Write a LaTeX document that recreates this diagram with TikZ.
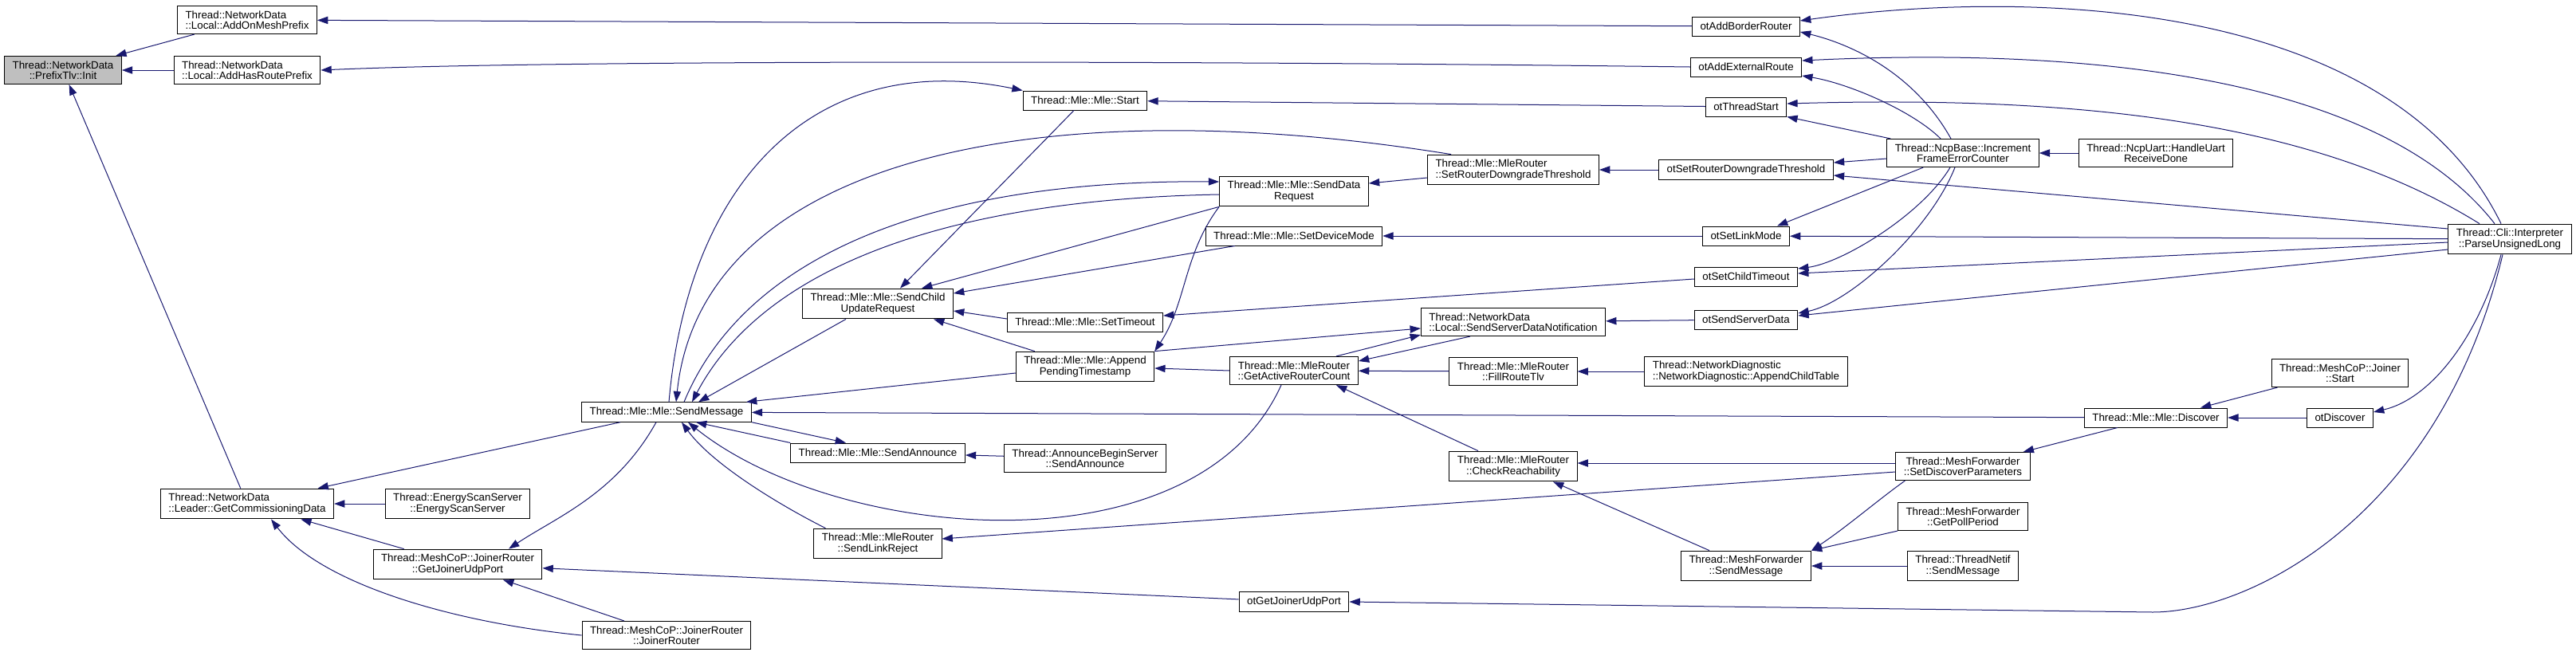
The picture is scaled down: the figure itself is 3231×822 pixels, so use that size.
\documentclass[tikz,border=0pt]{standalone}
\usepackage{fontspec}
\setmainfont{Liberation Sans}
\usetikzlibrary{arrows.meta,calc}
\definecolor{edgeblue}{HTML}{191970}
\definecolor{rootgray}{HTML}{BFBFBF}

\begin{document}
\begin{tikzpicture}[x=0.75pt,y=-0.75pt,
  fn/.style={draw=black,fill=white,line width=0.75pt,font=\fontsize{10}{10}\selectfont,
             inner xsep=7.5pt,inner ysep=4.5pt,minimum height=18pt,align=center},
  fnl/.style={fn,align=left},
  call/.style={draw=edgeblue,line width=0.75pt,-{Triangle[length=10pt,width=7pt]}}]
\useasboundingbox (0,0) rectangle (3231,822);

\node[fn,fill=rootgray] (init) at (79,88) {Thread::NetworkData\\::PrefixTlv::Init};
\node[fnl] (addmesh) at (310,25) {Thread::NetworkData\\::Local::AddOnMeshPrefix};
\node[fnl] (addroute) at (310,88) {Thread::NetworkData\\::Local::AddHasRoutePrefix};
\node[fnl] (getcomm) at (310,632) {Thread::NetworkData\\::Leader::GetCommissioningData};
\node[fn] (energy) at (574,632) {Thread::EnergyScanServer\\::EnergyScanServer};
\node[fn] (getudp) at (574,708) {Thread::MeshCoP::JoinerRouter\\::GetJoinerUdpPort};
\node[fn] (jrouter) at (836,797) {Thread::MeshCoP::JoinerRouter\\::JoinerRouter};
\node[fn] (sendmsg) at (836,517) {Thread::Mle::Mle::SendMessage};
\node[fn] (start) at (1361,126) {Thread::Mle::Mle::Start};
\node[fn] (scur) at (1101,381) {Thread::Mle::Mle::SendChild\\UpdateRequest};
\node[fn] (settimeout) at (1361,404) {Thread::Mle::Mle::SetTimeout};
\node[fn] (sdr) at (1623,240) {Thread::Mle::Mle::SendData\\Request};
\node[fn] (setdev) at (1623,296) {Thread::Mle::Mle::SetDeviceMode};
\node[fn] (apt) at (1361,460) {Thread::Mle::Mle::Append\\PendingTimestamp};
\node[fn] (sendann) at (1101,568) {Thread::Mle::Mle::SendAnnounce};
\node[fn] (annbegin) at (1361,575) {Thread::AnnounceBeginServer\\::SendAnnounce};
\node[fn] (linkrej) at (1101,682) {Thread::Mle::MleRouter\\::SendLinkReject};
\node[fn] (garc) at (1623,465) {Thread::Mle::MleRouter\\::GetActiveRouterCount};
\node[fn] (otudp) at (1623,755) {otGetJoinerUdpPort};
\node[fnl] (srdt) at (1898,213) {Thread::Mle::MleRouter\\::SetRouterDowngradeThreshold};
\node[fnl] (ssdn) at (1898,404) {Thread::NetworkData\\::Local::SendServerDataNotification};
\node[fn] (fillroute) at (1898,466) {Thread::Mle::MleRouter\\::FillRouteTlv};
\node[fn] (checkreach) at (1898,585) {Thread::Mle::MleRouter\\::CheckReachability};
\node[fn] (otborder) at (2190,33) {otAddBorderRouter};
\node[fn] (otextroute) at (2190,84) {otAddExternalRoute};
\node[fn] (otstart) at (2190,134) {otThreadStart};
\node[fn] (otsrdt) at (2190,213) {otSetRouterDowngradeThreshold};
\node[fn] (otlink) at (2190,296) {otSetLinkMode};
\node[fn] (otchild) at (2190,347) {otSetChildTimeout};
\node[fn] (otserver) at (2190,401) {otSendServerData};
\node[fnl] (appendchild) at (2190,466) {Thread::NetworkDiagnostic\\::NetworkDiagnostic::AppendChildTable};
\node[fn] (mfsend) at (2190,710) {Thread::MeshForwarder\\::SendMessage};
\node[fn] (ifec) at (2462,192) {Thread::NcpBase::Increment\\FrameErrorCounter};
\node[fn] (sdp) at (2462,585) {Thread::MeshForwarder\\::SetDiscoverParameters};
\node[fn] (pollper) at (2462,648) {Thread::MeshForwarder\\::GetPollPeriod};
\node[fn] (netifsend) at (2462,710) {Thread::ThreadNetif\\::SendMessage};
\node[fn] (ncpuart) at (2704,192) {Thread::NcpUart::HandleUart\\ReceiveDone};
\node[fn] (discover) at (2704,524) {Thread::Mle::Mle::Discover};
\node[fn] (joinstart) at (2935,468) {Thread::MeshCoP::Joiner\\::Start};
\node[fn] (otdiscover) at (2935,524) {otDiscover};
\node[fn] (parse) at (3148,300) {Thread::Cli::Interpreter\\::ParseUnsignedLong};

\draw[call] (addmesh) -- (init);
\draw[call] (addroute) -- (init);
\draw[call] (getcomm) -- (init);
\draw[call] (otborder) -- (addmesh);
\draw[call] (otextroute.west) .. controls (1500,76) and (700,75) .. (addroute.east);
\draw[call] (sendmsg) -- (getcomm);
\draw[call] (energy) -- (getcomm);
\draw[call] (getudp) -- (getcomm);
\draw[call] (jrouter.west) .. controls (560,780) and (400,730) .. ($(getcomm.south)+(30,0)$);
\draw[call] ($(sendmsg.south)+(-13,0)$) .. controls +(-50,90) and +(60,-40) .. ($(getudp.north)+(64,0)$);
\draw[call] (otudp) -- (getudp);
\draw[call] (jrouter) -- (getudp);

\draw[call] ($(sendmsg.north)+(3,0)$) .. controls +(24,-275) and +(-263,-54) .. (start.north west);
\draw[call] ($(srdt.north west)+(30,0)$) .. controls (1300,110) and (880,200) .. ($(sendmsg.north)+(12,0)$);
\draw[call] ($(sendmsg.north)+(22,0)$) .. controls (930,330) and (1150,225) .. ($(sdr.west)+(0,-12)$);
\draw[call] ($(sdr.west)+(0,4)$) .. controls (1200,250) and (960,330) .. ($(sendmsg.north)+(32,0)$);
\draw[call] ($(scur.south west)+(55,0)$) -- ($(sendmsg.north)+(40,0)$);
\draw[call] (sdr.south west) -- ($(scur.north)+(55,0)$);
\draw[call] ($(start.south)+(-14,0)$) -- ($(scur.north)+(28,0)$);
\draw[call] ($(setdev.south west)+(37,0)$) -- ($(scur.east)+(0,-13)$);
\draw[call] ($(settimeout.west)+(0,-4)$) -- ($(scur.east)+(0,9)$);
\draw[call] ($(apt.north west)+(24,0)$) -- ($(scur.south)+(70,0)$);
\draw[call] (sdr.south west) .. controls +(-45,60) and +(40,-60) .. (apt.north east);
\draw[call] ($(apt.west)+(0,8)$) -- ($(sendmsg.north)+(100,0)$);
\draw[call] (apt.north east) -- ($(ssdn.west)+(0,8)$);
\draw[call] (garc.west) -- ($(apt.east)+(0,2)$);
\draw[call] ($(garc.north)+(53,0)$) -- ($(ssdn.south west)+(0,-2)$);
\draw[call] ($(ssdn.south west)+(62,0)$) -- ($(garc.east)+(0,-12)$);
\draw[call] (fillroute) -- (garc);
\draw[call] ($(checkreach.north)+(-44,0)$) -- ($(garc.south)+(53,0)$);
\draw[call] ($(garc.south)+(-16,0)$) .. controls (1500,720) and (1050,680) .. ($(sendmsg.south)+(27,0)$);
\draw[call] (sendmsg.south east) -- ($(sendann.north)+(-40,0)$);
\draw[call] (sendann.north west) -- ($(sendmsg.south)+(37,0)$);
\draw[call] (annbegin) -- (sendann);
\draw[call] ($(linkrej.north west)+(15,0)$) .. controls +(-50,-25) and +(40,55) .. ($(sendmsg.south)+(19,0)$);

\draw[call] ($(sdp.west)+(0,7)$) -- ($(linkrej.east)+(0,-6)$);
\draw[call] ($(sdp.west)+(0,-4)$) -- ($(checkreach.east)+(0,-4)$);
\draw[call] ($(mfsend.north)+(-46,0)$) -- ($(checkreach.south)+(50,0)$);
\draw[call] ($(sdp.south west)+(12,0)$) .. controls +(-35,25) and +(45,-30) .. (mfsend.north east);
\draw[call] (pollper.south west) -- (mfsend.north east);
\draw[call] (netifsend) -- (mfsend);
\draw[call] ($(discover.south west)+(42,0)$) -- ($(sdp.north east)+(-9,0)$);
\draw[call] (discover) -- (sendmsg);
\draw[call] ($(joinstart.south west)+(8,0)$) -- ($(discover.north)+(56,0)$);
\draw[call] (otdiscover) -- (discover);

\draw[call] ($(parse.south)+(-11,0)$) .. controls (3110,420) and (3050,500) .. ($(otdiscover.east)+(0,-7)$);
\draw[call] ($(parse.south)+(-9,0)$) .. controls (3060,650) and (2820,768) .. (2700,768) -- (otudp.east);
\draw[call] ($(parse.north)+(-11,0)$) .. controls (3000,0) and (2550,-15) .. ($(otborder.east)+(0,-7)$);
\draw[call] ($(parse.north)+(-19,0)$) .. controls (2980,90) and (2600,60) .. ($(otextroute.east)+(0,-8)$);
\draw[call] ($(parse.north)+(-38,0)$) .. controls (2900,150) and (2600,120) .. ($(otstart.east)+(0,-4)$);
\draw[call] ($(parse.west)+(0,-13)$) -- ($(otsrdt.east)+(0,7)$);
\draw[call] (parse) -- (otlink);
\draw[call] ($(parse.west)+(0,4)$) -- ($(otchild.east)+(0,-4)$);
\draw[call] ($(parse.west)+(0,13)$) -- ($(otserver.east)+(0,-5)$);

\draw[call] ($(ifec.north)+(-15,0)$) .. controls (2400,90) and (2320,55) .. ($(otborder.east)+(0,7)$);
\draw[call] ($(ifec.north)+(-28,0)$) .. controls (2400,140) and (2320,105) .. ($(otextroute.east)+(0,11)$);
\draw[call] ($(ifec.north west)+(5,0)$) -- (otstart.south east);
\draw[call] ($(ifec.west)+(0,7)$) -- ($(otsrdt.east)+(0,-9)$);
\draw[call] ($(ifec.south west)+(46,0)$) -- ($(otlink.north east)+(-16,0)$);
\draw[call] ($(ifec.south)+(-16,0)$) .. controls (2410,270) and (2310,330) .. ($(otchild.east)+(0,-10)$);
\draw[call] ($(ifec.south)+(-10,0)$) .. controls (2420,290) and (2320,380) .. ($(otserver.east)+(0,-8)$);
\draw[call] (ncpuart) -- (ifec);

\draw[call] (otsrdt) -- (srdt);
\draw[call] ($(srdt.west)+(0,10)$) -- ($(sdr.east)+(0,-10)$);
\draw[call] (otstart) -- (start);
\draw[call] (otlink) -- (setdev);
\draw[call] ($(otchild.west)+(0,3)$) -- ($(settimeout.east)+(0,-8)$);
\draw[call] (otserver) -- (ssdn);
\draw[call] (appendchild) -- (fillroute);
\end{tikzpicture}
\end{document}
